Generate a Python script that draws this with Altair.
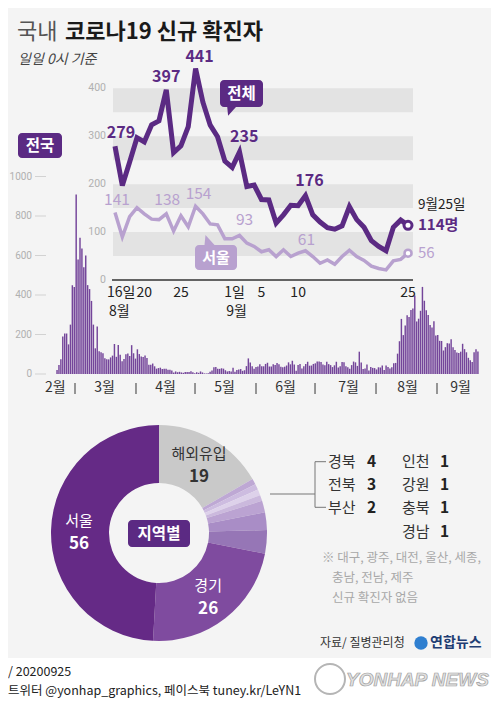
import altair as alt
import pandas as pd

KR = "Noto Sans CJK KR"
DARK = "#5b2a83"
LIGHT = "#b8a1cf"
BAR = "#74459a"
BG = "#f4f4f4"
BAND = "#e3e3e3"

# ---------------- data ----------------
# daily new COVID-19 cases nationwide (from 18 Feb 2020)
feb = [20, 45, 75, 190, 205, 205, 150, 250, 450, 440, 909, 580]
mar = [690, 635, 540, 600, 450, 430, 370, 250, 130, 240, 115, 110, 105, 80, 75,
       74, 84, 93, 152, 87, 147, 98, 64, 76, 100, 104, 91, 146, 105, 78, 125]
apr = [101, 89, 86, 94, 81, 47, 47, 53, 39, 27, 30, 32, 25, 27, 27, 22, 22, 18, 8, 13,
       9, 11, 8, 6, 10, 10, 10, 14, 9, 4]
may = [9, 6, 13, 8, 3, 2, 4, 12, 18, 34, 35, 27, 26, 29, 27, 19, 13, 15, 13, 32, 12, 20,
       23, 25, 16, 19, 40, 79, 58, 39, 27]
jun = [35, 38, 49, 39, 39, 51, 57, 38, 38, 50, 45, 56, 49, 37, 34, 37, 43, 59, 49, 67, 48,
       17, 46, 51, 28, 39, 51, 62, 42, 43]
jul = [51, 54, 63, 63, 61, 48, 44, 62, 50, 45, 35, 44, 62, 33, 39, 61, 60, 39, 34, 26, 45,
       63, 59, 41, 113, 58, 25, 28, 48, 18, 36]
aug = [31, 30, 23, 34, 33, 43, 20, 43, 36, 28, 34, 54, 56, 103, 166, 279, 197, 246, 297, 288,
       324, 332, 397, 266, 280, 320, 441, 371, 323, 299, 248]
sep = [235, 267, 195, 198, 168, 167, 119, 136, 156, 155, 176, 136, 121, 109, 106, 113, 153,
       126, 110, 82, 70, 61, 110, 125, 114]

# Seoul, 16 Aug - 25 Sep
seoul_aug = [141, 90, 132, 151, 138, 127, 126, 138, 102, 134, 111, 154, 138, 117, 115, 86]
seoul_sep = [86, 93, 77, 70, 59, 63, 49, 63, 49, 56, 61, 49, 35, 42, 33, 49, 62, 49, 41, 29,
             24, 21, 40, 43, 56]

main_ticks = [0, 200, 400, 600, 800, 1000]
months = ["2월", "3월", "4월", "5월", "6월", "7월", "8월", "9월"]
month_label_dates = ["2020-02-20", "2020-03-16", "2020-04-16", "2020-05-16", "2020-06-16",
                     "2020-07-18", "2020-08-17", "2020-09-13"]
month_starts = ["2020-03-01", "2020-04-01", "2020-05-01", "2020-06-01", "2020-07-01",
                "2020-08-01", "2020-09-01"]

inset_ticks = [0, 100, 200, 300, 400]
band_lo = [50, 150, 250, 350]
band_hi = [100, 200, 300, 400]
inset_num_dates = ["2020-08-20", "2020-08-25", "2020-09-05", "2020-09-10", "2020-09-25"]
inset_num_labels = ["20", "25", "5", "10", "25"]
inset_day_dates = ["2020-08-16", "2020-09-01"]
inset_day_labels = ["16일", "1일"]
inset_month_labels = ["8월", "9월"]

total_label_dates = ["2020-08-16", "2020-08-23", "2020-08-27", "2020-09-01", "2020-09-11"]
seoul_label_dates = ["2020-08-16", "2020-08-23", "2020-08-27", "2020-09-02", "2020-09-11"]

regions = ["해외유입", "인천", "강원", "충북", "경남", "부산", "전북", "경북", "경기", "서울"]
counts = [19, 1, 1, 1, 1, 2, 3, 4, 26, 56]

# ---------------- styles ----------------
slice_colors = ["#c9c9c9", "#bea8d4", "#cdbce0", "#ddd1ea", "#cbb9dd", "#bba3d2",
                "#a98dc6", "#9676b6", "#7f4b9f", "#652a86"]
total_offsets = [(6, -13), (0, -13), (4, -12), (12, -30), (4, -15)]
seoul_offsets = [(2, -12), (1, -14), (3, -12), (5, -15), (1, -11)]

# ---------------- frames ----------------
def doy(s):
    return int(pd.Timestamp(s).dayofyear)

daily = feb + mar + apr + may + jun + jul + aug + sep
dates = pd.date_range("2020-02-18", periods=len(daily))
main_df = pd.DataFrame({"d": dates.dayofyear, "v": daily})

recent = pd.date_range("2020-08-16", periods=41)
total_recent = aug[15:] + sep
seoul_recent = seoul_aug + seoul_sep
inset_df = pd.DataFrame({"d": recent.dayofyear, "total": total_recent, "seoul": seoul_recent})
lookup = dict(zip(inset_df["d"], zip(inset_df["total"], inset_df["seoul"])))

XM = alt.Scale(domain=[61, 245], range=[67, 429], zero=False, nice=False)
YM = alt.Scale(domain=[0, 1000], range=[366, 168.5], zero=False, nice=False)
XI = alt.Scale(domain=[229, 269], range=[107, 400], zero=False, nice=False)
YI = alt.Scale(domain=[0, 400], range=[272, 80.3], zero=False, nice=False)

ONE = pd.DataFrame({"t": [""]})


def text(s, x, y, size=13, color="#333", weight="normal", align="left", style="normal",
         font=KR, **kw):
    return alt.Chart(pd.DataFrame({"t": [s]})).mark_text(
        align=align, baseline="middle", fontSize=size, font=font, fontWeight=weight,
        fontStyle=style, color=color, **kw
    ).encode(x=alt.value(x), y=alt.value(y), text="t:N")


def box(x1, y1, x2, y2, color, r=4):
    return alt.Chart(ONE).mark_rect(color=color, cornerRadius=r).encode(
        x=alt.value(x1), x2=alt.value(x2), y=alt.value(y1), y2=alt.value(y2))


def seg(x1, y1, x2, y2, color="#666", w=1.0):
    return alt.Chart(ONE).mark_rule(color=color, strokeWidth=w).encode(
        x=alt.value(x1), x2=alt.value(x2), y=alt.value(y1), y2=alt.value(y2))


def tail(x, y, path, color, size):
    return alt.Chart(ONE).mark_point(shape=path, filled=True, color=color, size=size,
                                     opacity=1, strokeWidth=0).encode(
        x=alt.value(x), y=alt.value(y))


L = []
# background
L.append(box(0, 0, 483, 650, BG, 0))

# inset bands
L.append(alt.Chart(pd.DataFrame({"lo": band_lo, "hi": band_hi})).mark_rect(color=BAND).encode(
    x=alt.value(105), x2=alt.value(405),
    y=alt.Y("lo:Q", scale=YI, axis=None), y2="hi:Q"))

# main bars
L.append(alt.Chart(main_df).mark_bar(size=1.45, color=BAR).encode(
    x=alt.X("d:Q", scale=XM, axis=None), y=alt.Y("v:Q", scale=YM, axis=None)))

# main y axis
mt = pd.DataFrame({"v": main_ticks, "lab": [str(v) for v in main_ticks]})
L.append(alt.Chart(mt).mark_text(align="right", baseline="middle", fontSize=10,
                                 font="Roboto", color="#b0b0b0").encode(
    x=alt.value(24), y=alt.Y("v:Q", scale=YM, axis=None), text="lab:N"))
L.append(alt.Chart(mt).mark_rule(color="#d2d2d2", strokeWidth=1).encode(
    x=alt.value(27), x2=alt.value(38), y=alt.Y("v:Q", scale=YM, axis=None)))

# month labels and separators
ml = pd.DataFrame({"d": [doy(s) for s in month_label_dates], "m": months})
L.append(alt.Chart(ml).mark_text(fontSize=14, font=KR, color="#333", baseline="middle").encode(
    x=alt.X("d:Q", scale=XM, axis=None), y=alt.value(380), text="m:N"))
ms = pd.DataFrame({"d": [doy(s) for s in month_starts]})
L.append(alt.Chart(ms).mark_rule(color="#555", strokeWidth=1.2).encode(
    x=alt.X("d:Q", scale=XM, axis=None), y=alt.value(375), y2=alt.value(386)))

# inset axes
it = pd.DataFrame({"v": inset_ticks, "lab": [str(v) for v in inset_ticks]})
L.append(alt.Chart(it).mark_text(align="right", baseline="middle", fontSize=10.5,
                                 font="Roboto", color="#b0b0b0").encode(
    x=alt.value(98), y=alt.Y("v:Q", scale=YI, axis=None), text="lab:N"))
L.append(seg(104, 272, 405, 272, "#333", 1.5))
inl = pd.DataFrame({"d": [doy(s) for s in inset_num_dates], "lab": inset_num_labels})
L.append(alt.Chart(inl).mark_text(fontSize=14, font=KR, color="#222", baseline="middle").encode(
    x=alt.X("d:Q", scale=XI, axis=None), y=alt.value(285), text="lab:N"))
idl = pd.DataFrame({"d": [doy(s) for s in inset_day_dates], "lab": inset_day_labels,
                    "mon": inset_month_labels})
L.append(alt.Chart(idl).mark_text(fontSize=14, font=KR, color="#222", baseline="middle",
                                  align="left", dx=-8).encode(
    x=alt.X("d:Q", scale=XI, axis=None), y=alt.value(285), text="lab:N"))
L.append(alt.Chart(idl).mark_text(fontSize=14, font=KR, color="#222", baseline="middle",
                                  align="left", dx=-6).encode(
    x=alt.X("d:Q", scale=XI, axis=None), y=alt.value(304), text="mon:N"))

# inset lines
L.append(alt.Chart(inset_df).mark_line(color=LIGHT, strokeWidth=3.5).encode(
    x=alt.X("d:Q", scale=XI, axis=None), y=alt.Y("seoul:Q", scale=YI, axis=None)))
L.append(alt.Chart(inset_df).mark_line(color=DARK, strokeWidth=5).encode(
    x=alt.X("d:Q", scale=XI, axis=None), y=alt.Y("total:Q", scale=YI, axis=None)))
last = inset_df.tail(1)
L.append(alt.Chart(last).mark_point(filled=True, fill="white", stroke=LIGHT, strokeWidth=2.5,
                                    size=49, opacity=1).encode(
    x=alt.X("d:Q", scale=XI, axis=None), y=alt.Y("seoul:Q", scale=YI, axis=None)))
L.append(alt.Chart(last).mark_point(filled=True, fill="white", stroke=DARK, strokeWidth=3,
                                    size=64, opacity=1).encode(
    x=alt.X("d:Q", scale=XI, axis=None), y=alt.Y("total:Q", scale=YI, axis=None)))

# value labels
for s, (dx, dy) in zip(total_label_dates, total_offsets):
    d = doy(s)
    v = lookup[d][0]
    L.append(alt.Chart(pd.DataFrame({"d": [d], "v": [v], "lab": [str(v)]})).mark_text(
        fontSize=16, font=KR, fontWeight="bold", color=DARK, baseline="middle", dx=dx, dy=dy
    ).encode(x=alt.X("d:Q", scale=XI, axis=None), y=alt.Y("v:Q", scale=YI, axis=None),
             text="lab:N"))
for s, (dx, dy) in zip(seoul_label_dates, seoul_offsets):
    d = doy(s)
    v = lookup[d][1]
    L.append(alt.Chart(pd.DataFrame({"d": [d], "v": [v], "lab": [str(v)]})).mark_text(
        fontSize=15.5, font=KR, color=LIGHT, baseline="middle", dx=dx, dy=dy
    ).encode(x=alt.X("d:Q", scale=XI, axis=None), y=alt.Y("v:Q", scale=YI, axis=None),
             text="lab:N"))

L.append(text("9월25일", 410, 197, 13.5, "#222"))
L.append(text(f"{total_recent[-1]}명", 410, 217, 15, DARK, "bold"))
L.append(text(f"{seoul_recent[-1]}", 410, 245, 15, LIGHT))

# badges
L.append(box(212, 72, 255, 99, DARK))
L.append(tail(223.7, 103.2, "M-1,-1L1,-1L-0.8,1Z", DARK, 81))
L.append(text("전체", 233.5, 85.5, 15.5, "white", "bold", "center"))
L.append(box(187, 237, 229, 262, LIGHT))
L.append(tail(201.5, 232, "M-0.8,-1L-1,1L1,1Z", LIGHT, 100))
L.append(text("서울", 208, 249.5, 15, "white", "bold", "center"))
L.append(box(10, 125, 54, 150, DARK))
L.append(text("전국", 32, 137.5, 15.5, "white", "bold", "center"))

# donut
names = [r if r in ("해외유입", "경기", "서울") else "" for r in regions]
nums = [str(n) if r in ("해외유입", "경기", "서울") else "" for r, n in zip(regions, counts)]
tcol = ["#333333" if r == "해외유입" else "white" for r in regions]
donut_df = pd.DataFrame({"r": regions, "n": counts, "i": list(range(len(regions))),
                         "name": names, "num": nums, "tc": tcol})
L.append(alt.Chart(donut_df).mark_arc(innerRadius=50, outerRadius=108).encode(
    theta=alt.Theta("n:Q", stack=True), order=alt.Order("i:Q"),
    color=alt.Color("r:N", scale=alt.Scale(domain=regions, range=slice_colors), legend=None),
    x=alt.value(151), y=alt.value(525)))
L.append(alt.Chart(donut_df).mark_text(radius=80, dy=-10, fontSize=15, font=KR,
                                       baseline="middle").encode(
    theta=alt.Theta("n:Q", stack=True), order=alt.Order("i:Q"), text="name:N",
    color=alt.Color("tc:N", scale=None), x=alt.value(151), y=alt.value(525)))
L.append(alt.Chart(donut_df).mark_text(radius=80, dy=13, fontSize=17, font=KR,
                                       fontWeight="bold", baseline="middle").encode(
    theta=alt.Theta("n:Q", stack=True), order=alt.Order("i:Q"), text="num:N",
    color=alt.Color("tc:N", scale=None), x=alt.value(151), y=alt.value(525)))
L.append(box(120, 512, 182, 539, DARK))
L.append(text("지역별", 151, 525.5, 15.5, "white", "bold", "center"))

# region list
cnt = dict(zip(regions, counts))
left_col = ["경북", "전북", "부산"]
right_col = ["인천", "강원", "충북", "경남"]
for k, r in enumerate(left_col):
    y = 453.7 + 23.3 * k
    L.append(text(r, 320, y, 15, "#333"))
    L.append(text(str(cnt[r]), 359, y, 15.5, "#222", "bold"))
for k, r in enumerate(right_col):
    y = 453.7 + 23.3 * k
    L.append(text(r, 394, y, 15, "#333"))
    L.append(text(str(cnt[r]), 432, y, 15.5, "#222", "bold"))
L.append(seg(262, 486, 307, 486, "#777"))
L.append(seg(307, 453.7, 307, 499.3, "#777"))
L.append(seg(307, 453.7, 318, 453.7, "#777"))
L.append(seg(307, 499.3, 318, 499.3, "#777"))

# notes
L.append(text("※ 대구, 광주, 대전, 울산, 세종,", 314, 550, 12.5, "#a8a8a8"))
L.append(text("충남, 전남, 제주", 324, 570, 12.5, "#a8a8a8"))
L.append(text("신규 확진자 없음", 324, 590, 12.5, "#a8a8a8"))

# source and logo
L.append(text("자료/ 질병관리청", 312, 635, 12, "#333"))
L.append(alt.Chart(ONE).mark_point(filled=True, color="#2f7fd0", size=180, opacity=1).encode(
    x=alt.value(413), y=alt.value(635)))
L.append(text("연합뉴스", 422, 635, 14, "#1f3d73", "bold"))

# title
L.append(text("국내", 9, 24, 22, "#555"))
L.append(text("코로나19 신규 확진자", 57, 24, 22, "#1a1a1a", "bold"))
L.append(text("일일 0시 기준", 10, 52, 14, "#444", style="italic"))

# footer
L.append(text("/ 20200925", 0, 664, 12.5, "#222"))
L.append(text("트위터 @yonhap_graphics, 페이스북 tuney.kr/LeYN1", 0, 683, 12.5, "#222"))
L.append(alt.Chart(ONE).mark_point(filled=False, color="#b5b5b5", strokeWidth=2, size=900,
                                   opacity=1).encode(x=alt.value(322), y=alt.value(671)))
L.append(text("YONHAP NEWS", 338, 672, 19, "#e2e2e2", "bold", style="italic",
              font="Liberation Sans", stroke="#a0a0a0", strokeWidth=0.7))

chart = alt.layer(*L).properties(
    width=483, height=692, padding=0,
    autosize=alt.AutoSizeParams(type="none"), background="white"
).resolve_scale(
    x="independent", y="independent", theta="independent", color="independent"
).configure_view(strokeWidth=0)

chart.save("out.html", embed_options={"renderer": "svg", "actions": False})
